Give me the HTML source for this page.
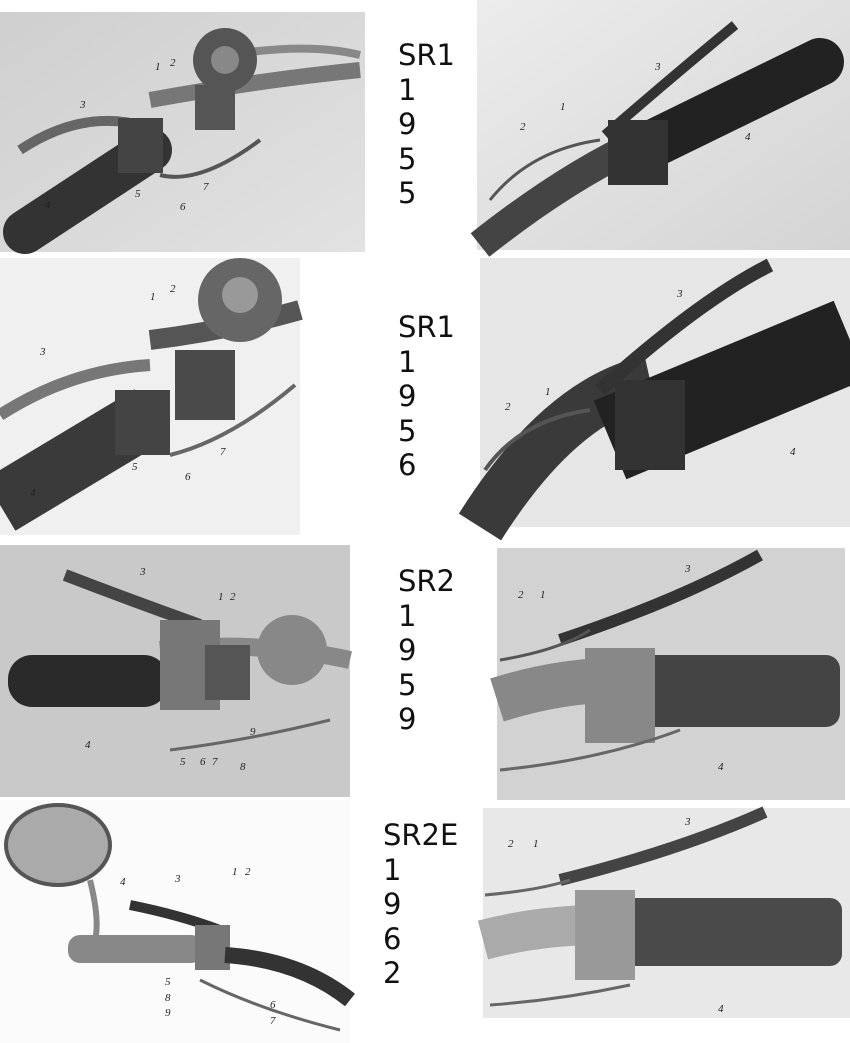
<!DOCTYPE html>
<html><head><meta charset="utf-8"><style>
html,body{margin:0;padding:0;background:#fff;width:850px;height:1043px;overflow:hidden}
.t{position:absolute;font-family:"DejaVu Sans","Liberation Sans",sans-serif;font-size:29px;line-height:34.5px;color:#111;font-weight:normal}
svg{position:absolute;left:0;top:0}
</style></head><body>
<svg width="850" height="1043" viewBox="0 0 850 1043">
<defs>
<linearGradient id="g1" x1="0" y1="0" x2="1" y2="1"><stop offset="0" stop-color="#cfcfcf"/><stop offset="1" stop-color="#e2e2e2"/></linearGradient>
<linearGradient id="g2" x1="0" y1="0" x2="1" y2="1"><stop offset="0" stop-color="#ececec"/><stop offset="1" stop-color="#d4d4d4"/></linearGradient>
</defs>
<rect x="0" y="12" width="365" height="240" fill="url(#g1)"/>
<path d="M150 100 Q260 80 360 70" stroke="#777" stroke-width="16" fill="none"/>
<path d="M200 60 Q300 40 360 55" stroke="#888" stroke-width="8" fill="none"/>
<line x1="25" y1="232" x2="150" y2="150" stroke="#333" stroke-width="44" stroke-linecap="round"/>
<path d="M20 150 Q80 110 140 125" stroke="#666" stroke-width="10" fill="none"/>
<rect x="118" y="118" width="45" height="55" fill="#444"/>
<circle cx="225" cy="60" r="32" fill="#555"/><circle cx="225" cy="60" r="14" fill="#888"/>
<rect x="195" y="85" width="40" height="45" fill="#555"/>
<path d="M160 175 Q200 185 260 140" stroke="#555" stroke-width="4" fill="none"/>
<rect x="477" y="0" width="373" height="250" fill="url(#g2)"/>
<path d="M480 245 Q600 150 700 120" stroke="#444" stroke-width="30" fill="none"/>
<line x1="640" y1="150" x2="820" y2="62" stroke="#222" stroke-width="48" stroke-linecap="round"/>
<path d="M605 135 Q680 70 735 25" stroke="#333" stroke-width="10" fill="none"/>
<rect x="608" y="120" width="60" height="65" fill="#333"/>
<path d="M490 200 Q530 150 600 140" stroke="#555" stroke-width="3" fill="none"/>
<rect x="0" y="258" width="300" height="277" fill="#f0f0f0"/>
<path d="M150 340 Q230 330 300 310" stroke="#555" stroke-width="20" fill="none"/>
<line x1="0" y1="505" x2="150" y2="415" stroke="#3a3a3a" stroke-width="60"/>
<path d="M0 415 Q70 370 150 365" stroke="#777" stroke-width="12" fill="none"/>
<rect x="115" y="390" width="55" height="65" fill="#444"/>
<circle cx="240" cy="300" r="42" fill="#666"/><circle cx="240" cy="295" r="18" fill="#999"/>
<rect x="175" y="350" width="60" height="70" fill="#4a4a4a"/>
<path d="M170 455 Q230 440 295 385" stroke="#666" stroke-width="4" fill="none"/>
<rect x="480" y="258" width="370" height="269" fill="#e6e6e6"/>
<path d="M480 527 Q560 400 650 380" stroke="#3a3a3a" stroke-width="50" fill="none"/>
<line x1="610" y1="440" x2="850" y2="340" stroke="#222" stroke-width="85"/>
<path d="M600 390 Q700 300 770 265" stroke="#333" stroke-width="14" fill="none"/>
<rect x="615" y="380" width="70" height="90" fill="#333"/>
<path d="M485 470 Q520 420 590 410" stroke="#555" stroke-width="4" fill="none"/>
<rect x="0" y="545" width="350" height="252" fill="#c9c9c9"/>
<path d="M160 650 Q260 640 350 660" stroke="#888" stroke-width="18" fill="none"/>
<rect x="8" y="655" width="160" height="52" rx="24" fill="#2a2a2a"/>
<path d="M65 575 Q130 600 200 625" stroke="#444" stroke-width="12" fill="none"/>
<rect x="160" y="620" width="60" height="90" fill="#777"/>
<rect x="205" y="645" width="45" height="55" fill="#555"/>
<circle cx="292" cy="650" r="35" fill="#888"/>
<path d="M170 750 Q250 740 330 720" stroke="#666" stroke-width="3" fill="none"/>
<rect x="497" y="548" width="348" height="252" fill="#d2d2d2"/>
<path d="M497 700 Q560 680 620 680" stroke="#888" stroke-width="45" fill="none"/>
<rect x="640" y="655" width="200" height="72" rx="14" fill="#444"/>
<rect x="585" y="648" width="70" height="95" fill="#888"/>
<path d="M560 640 Q680 600 760 555" stroke="#333" stroke-width="12" fill="none"/>
<path d="M500 660 Q560 650 590 630" stroke="#555" stroke-width="3" fill="none"/>
<path d="M500 770 Q600 760 680 730" stroke="#666" stroke-width="3" fill="none"/>
<rect x="0" y="800" width="350" height="243" fill="#fbfbfb"/>
<ellipse cx="58" cy="845" rx="52" ry="40" fill="#aaa" stroke="#555" stroke-width="4"/>
<path d="M90 880 Q100 920 95 940" stroke="#888" stroke-width="6" fill="none"/>
<rect x="68" y="935" width="135" height="28" rx="12" fill="#888"/>
<path d="M130 905 Q180 915 220 930" stroke="#333" stroke-width="10" fill="none"/>
<rect x="195" y="925" width="35" height="45" fill="#777"/>
<path d="M225 955 Q300 960 350 1000" stroke="#333" stroke-width="16" fill="none"/>
<path d="M200 980 Q260 1010 340 1030" stroke="#666" stroke-width="3" fill="none"/>
<rect x="483" y="808" width="367" height="210" fill="#e8e8e8"/>
<path d="M483 940 Q540 925 600 925" stroke="#aaa" stroke-width="40" fill="none"/>
<rect x="620" y="898" width="222" height="68" rx="12" fill="#4a4a4a"/>
<rect x="575" y="890" width="60" height="90" fill="#999"/>
<path d="M560 880 Q680 850 765 812" stroke="#444" stroke-width="12" fill="none"/>
<path d="M485 895 Q540 890 570 880" stroke="#666" stroke-width="3" fill="none"/>
<path d="M490 1005 Q560 1000 630 985" stroke="#666" stroke-width="3" fill="none"/>
<g font-family="Liberation Serif,serif" font-size="11" fill="#222" font-style="italic">
<text x="155" y="70">1</text><text x="170" y="66">2</text><text x="80" y="108">3</text><text x="45" y="208">4</text><text x="135" y="197">5</text><text x="180" y="210">6</text><text x="203" y="190">7</text>
<text x="655" y="70">3</text><text x="520" y="130">2</text><text x="560" y="110">1</text><text x="745" y="140">4</text>
<text x="150" y="300">1</text><text x="170" y="292">2</text><text x="40" y="355">3</text><text x="30" y="496">4</text><text x="132" y="470">5</text><text x="185" y="480">6</text><text x="220" y="455">7</text>
<text x="677" y="297">3</text><text x="505" y="410">2</text><text x="545" y="395">1</text><text x="790" y="455">4</text>
<text x="140" y="575">3</text><text x="218" y="600">1</text><text x="230" y="600">2</text><text x="85" y="748">4</text><text x="180" y="765">5</text><text x="200" y="765">6</text><text x="212" y="765">7</text><text x="240" y="770">8</text><text x="250" y="735">9</text>
<text x="685" y="572">3</text><text x="518" y="598">2</text><text x="540" y="598">1</text><text x="718" y="770">4</text>
<text x="120" y="885">4</text><text x="175" y="882">3</text><text x="232" y="875">1</text><text x="245" y="875">2</text><text x="165" y="985">5</text><text x="165" y="1001">8</text><text x="165" y="1016">9</text><text x="270" y="1008">6</text><text x="270" y="1024">7</text>
<text x="685" y="825">3</text><text x="508" y="847">2</text><text x="533" y="847">1</text><text x="718" y="1012">4</text>
</g>
</svg>
<div class="t" style="left:398px;top:38px">SR1<br>1<br>9<br>5<br>5</div>
<div class="t" style="left:398px;top:310px">SR1<br>1<br>9<br>5<br>6</div>
<div class="t" style="left:398px;top:564px">SR2<br>1<br>9<br>5<br>9</div>
<div class="t" style="left:383px;top:818px">SR2E<br>1<br>9<br>6<br>2</div>
</body></html>
